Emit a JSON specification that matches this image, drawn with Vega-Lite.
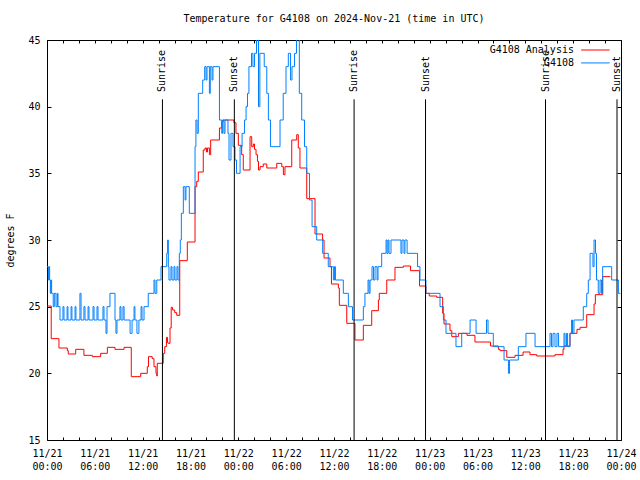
{
  "$schema": "https://vega.github.io/schema/vega-lite/v6.json",
  "width": 574,
  "height": 400,
  "autosize": {"type": "none"},
  "padding": {"left": 47, "top": 40, "right": 19, "bottom": 40},
  "title": {"text": "Temperature for G4108 on 2024-Nov-21 (time in UTC)", "font": "DejaVu Sans Mono", "fontSize": 10, "fontWeight": "normal", "color": "black", "anchor": "middle", "offset": 11},
  "config": {
    "view": {"stroke": "black", "strokeWidth": 1},
    "font": "DejaVu Sans Mono",
    "text": {"font": "DejaVu Sans Mono", "fontSize": 10, "color": "black"}
  },
  "resolve": {"axis": {"x": "independent", "y": "independent"}},
  "datasets": {
    "analysis": [
      {"hours": 0, "temp": 25.05}, {"hours": 0.53, "temp": 22.6}, {"hours": 1.5, "temp": 21.9}, {"hours": 2.55, "temp": 21.7},
      {"hours": 2.67, "temp": 21.45}, {"hours": 3.6, "temp": 21.8}, {"hours": 4.63, "temp": 21.35}, {"hours": 5.68, "temp": 21.25},
      {"hours": 6.73, "temp": 21.5}, {"hours": 7.57, "temp": 21.95}, {"hours": 8.53, "temp": 21.8}, {"hours": 9.67, "temp": 21.95},
      {"hours": 10.57, "temp": 19.75}, {"hours": 11.75, "temp": 20.0}, {"hours": 12.58, "temp": 20.5}, {"hours": 12.73, "temp": 21.25},
      {"hours": 13.2, "temp": 21.1}, {"hours": 13.42, "temp": 20.5}, {"hours": 13.67, "temp": 20.0}, {"hours": 13.77, "temp": 19.8},
      {"hours": 13.83, "temp": 20.75}, {"hours": 14.58, "temp": 21.5}, {"hours": 14.77, "temp": 22.0}, {"hours": 14.98, "temp": 22.7},
      {"hours": 15.12, "temp": 22.3}, {"hours": 15.22, "temp": 22.25}, {"hours": 15.43, "temp": 23.4}, {"hours": 15.58, "temp": 24.95},
      {"hours": 15.75, "temp": 24.75}, {"hours": 16.02, "temp": 24.55}, {"hours": 16.27, "temp": 24.35}, {"hours": 16.65, "temp": 28.45},
      {"hours": 17.6, "temp": 29.85}, {"hours": 18.57, "temp": 34.0}, {"hours": 18.78, "temp": 34.4}, {"hours": 18.98, "temp": 35.1},
      {"hours": 19.6, "temp": 36.75}, {"hours": 19.82, "temp": 36.9}, {"hours": 20.0, "temp": 36.6}, {"hours": 20.13, "temp": 36.9},
      {"hours": 20.37, "temp": 36.4}, {"hours": 20.53, "temp": 37.5}, {"hours": 21.63, "temp": 38.4}, {"hours": 21.92, "temp": 38.9},
      {"hours": 22.12, "temp": 39.0}, {"hours": 23.45, "temp": 38.8}, {"hours": 23.7, "temp": 38.0}, {"hours": 24.0, "temp": 37.1},
      {"hours": 24.42, "temp": 36.4}, {"hours": 24.62, "temp": 35.25}, {"hours": 25.47, "temp": 37.75}, {"hours": 25.68, "temp": 37.0},
      {"hours": 25.88, "temp": 37.2}, {"hours": 26.03, "temp": 36.8}, {"hours": 26.22, "temp": 36.4}, {"hours": 26.4, "temp": 35.9},
      {"hours": 26.53, "temp": 35.25}, {"hours": 26.72, "temp": 35.5}, {"hours": 27.13, "temp": 35.7}, {"hours": 27.57, "temp": 35.4},
      {"hours": 28.82, "temp": 35.75}, {"hours": 29.45, "temp": 35.5}, {"hours": 29.65, "temp": 34.9}, {"hours": 29.85, "temp": 35.5},
      {"hours": 30.7, "temp": 37.5}, {"hours": 31.32, "temp": 37.9}, {"hours": 31.52, "temp": 36.9}, {"hours": 31.73, "temp": 35.4},
      {"hours": 32.58, "temp": 33.1}, {"hours": 33.62, "temp": 30.45}, {"hours": 34.57, "temp": 30.0}, {"hours": 34.75, "temp": 28.65},
      {"hours": 35.5, "temp": 28.0}, {"hours": 35.68, "temp": 26.7}, {"hours": 36.55, "temp": 26.4}, {"hours": 36.67, "temp": 25.1},
      {"hours": 37.6, "temp": 23.75}, {"hours": 38.63, "temp": 22.5}, {"hours": 39.68, "temp": 23.6}, {"hours": 40.73, "temp": 24.7},
      {"hours": 41.57, "temp": 25.5}, {"hours": 41.68, "temp": 26.0}, {"hours": 42.62, "temp": 27.0}, {"hours": 43.65, "temp": 27.95},
      {"hours": 44.7, "temp": 28.05}, {"hours": 45.6, "temp": 27.7}, {"hours": 46.73, "temp": 26.55}, {"hours": 47.53, "temp": 26.0},
      {"hours": 47.95, "temp": 25.8}, {"hours": 48.88, "temp": 25.7}, {"hours": 49.63, "temp": 24.5}, {"hours": 49.8, "temp": 23.7},
      {"hours": 50.55, "temp": 23.2}, {"hours": 50.77, "temp": 22.75}, {"hours": 51.6, "temp": 23.0}, {"hours": 52.68, "temp": 22.85},
      {"hours": 53.68, "temp": 22.35}, {"hours": 55.63, "temp": 22.05}, {"hours": 56.62, "temp": 21.8}, {"hours": 56.83, "temp": 21.7},
      {"hours": 57.67, "temp": 21.2}, {"hours": 58.7, "temp": 21.35}, {"hours": 59.72, "temp": 21.6}, {"hours": 60.58, "temp": 21.4},
      {"hours": 61.43, "temp": 21.3}, {"hours": 63.72, "temp": 21.4}, {"hours": 64.73, "temp": 21.8}, {"hours": 64.85, "temp": 22.05},
      {"hours": 65.6, "temp": 23.0}, {"hours": 66.48, "temp": 23.3}, {"hours": 66.87, "temp": 23.45}, {"hours": 67.7, "temp": 24.4},
      {"hours": 68.62, "temp": 25.2}, {"hours": 68.78, "temp": 25.9}, {"hours": 69.7, "temp": 27.25}, {"hours": 70.68, "temp": 27.25}
    ],
    "obs": [
      {"hours": 0, "temp": 28}, {"hours": 0.17, "temp": 27}, {"hours": 0.25, "temp": 28}, {"hours": 0.33, "temp": 27},
      {"hours": 0.42, "temp": 26}, {"hours": 0.5, "temp": 27}, {"hours": 0.58, "temp": 26}, {"hours": 0.78, "temp": 25},
      {"hours": 0.92, "temp": 26}, {"hours": 1.13, "temp": 25}, {"hours": 1.3, "temp": 26}, {"hours": 1.38, "temp": 25},
      {"hours": 1.63, "temp": 24}, {"hours": 2.0, "temp": 25}, {"hours": 2.13, "temp": 24}, {"hours": 2.52, "temp": 25},
      {"hours": 2.63, "temp": 24}, {"hours": 3.02, "temp": 25}, {"hours": 3.13, "temp": 24}, {"hours": 3.52, "temp": 25},
      {"hours": 3.63, "temp": 24}, {"hours": 4.13, "temp": 26}, {"hours": 4.27, "temp": 24}, {"hours": 4.63, "temp": 25},
      {"hours": 4.77, "temp": 24}, {"hours": 5.15, "temp": 25}, {"hours": 5.27, "temp": 24}, {"hours": 5.77, "temp": 25},
      {"hours": 5.9, "temp": 24}, {"hours": 6.27, "temp": 25}, {"hours": 6.4, "temp": 24}, {"hours": 7.02, "temp": 25},
      {"hours": 7.15, "temp": 24}, {"hours": 7.4, "temp": 23}, {"hours": 7.53, "temp": 25}, {"hours": 7.9, "temp": 26},
      {"hours": 8.53, "temp": 24}, {"hours": 8.65, "temp": 23}, {"hours": 8.78, "temp": 24}, {"hours": 9.15, "temp": 25},
      {"hours": 9.28, "temp": 24}, {"hours": 9.53, "temp": 25}, {"hours": 9.67, "temp": 24}, {"hours": 10.42, "temp": 23},
      {"hours": 10.67, "temp": 24}, {"hours": 10.92, "temp": 25}, {"hours": 11.03, "temp": 24}, {"hours": 11.28, "temp": 23},
      {"hours": 11.53, "temp": 24}, {"hours": 11.8, "temp": 25}, {"hours": 11.92, "temp": 24}, {"hours": 12.17, "temp": 25},
      {"hours": 12.7, "temp": 26}, {"hours": 13.42, "temp": 27}, {"hours": 13.55, "temp": 26}, {"hours": 13.77, "temp": 27},
      {"hours": 14.3, "temp": 28}, {"hours": 15.02, "temp": 29}, {"hours": 15.13, "temp": 30}, {"hours": 15.22, "temp": 28},
      {"hours": 15.3, "temp": 27}, {"hours": 15.55, "temp": 28}, {"hours": 15.68, "temp": 27}, {"hours": 15.93, "temp": 28},
      {"hours": 16.05, "temp": 27}, {"hours": 16.3, "temp": 28}, {"hours": 16.43, "temp": 27}, {"hours": 16.6, "temp": 29},
      {"hours": 16.72, "temp": 30}, {"hours": 16.85, "temp": 32}, {"hours": 17.1, "temp": 34}, {"hours": 17.32, "temp": 33},
      {"hours": 17.43, "temp": 34}, {"hours": 17.85, "temp": 32}, {"hours": 18.57, "temp": 37}, {"hours": 18.68, "temp": 39},
      {"hours": 18.82, "temp": 38}, {"hours": 18.98, "temp": 41}, {"hours": 19.53, "temp": 42}, {"hours": 19.78, "temp": 43},
      {"hours": 19.95, "temp": 42}, {"hours": 20.07, "temp": 43}, {"hours": 20.37, "temp": 41}, {"hours": 20.48, "temp": 43},
      {"hours": 20.7, "temp": 42}, {"hours": 20.82, "temp": 43}, {"hours": 21.63, "temp": 39}, {"hours": 21.92, "temp": 38},
      {"hours": 22.03, "temp": 39}, {"hours": 22.2, "temp": 38}, {"hours": 22.33, "temp": 39}, {"hours": 22.7, "temp": 38},
      {"hours": 22.83, "temp": 36}, {"hours": 23.08, "temp": 38}, {"hours": 23.33, "temp": 37}, {"hours": 23.58, "temp": 36},
      {"hours": 23.77, "temp": 35}, {"hours": 24.22, "temp": 37}, {"hours": 24.47, "temp": 38}, {"hours": 24.77, "temp": 39},
      {"hours": 24.97, "temp": 40}, {"hours": 25.15, "temp": 41}, {"hours": 25.33, "temp": 43}, {"hours": 25.65, "temp": 44},
      {"hours": 25.83, "temp": 43}, {"hours": 26.03, "temp": 44}, {"hours": 26.28, "temp": 46}, {"hours": 26.53, "temp": 40},
      {"hours": 26.7, "temp": 44}, {"hours": 27.25, "temp": 43}, {"hours": 27.57, "temp": 41}, {"hours": 27.77, "temp": 39},
      {"hours": 28.03, "temp": 37}, {"hours": 29.23, "temp": 39}, {"hours": 29.63, "temp": 41}, {"hours": 29.98, "temp": 43},
      {"hours": 30.27, "temp": 44}, {"hours": 30.55, "temp": 42}, {"hours": 30.73, "temp": 43}, {"hours": 31.05, "temp": 44},
      {"hours": 31.3, "temp": 46}, {"hours": 31.65, "temp": 41}, {"hours": 31.95, "temp": 39}, {"hours": 32.3, "temp": 37},
      {"hours": 32.58, "temp": 35}, {"hours": 32.93, "temp": 33}, {"hours": 33.25, "temp": 31}, {"hours": 33.83, "temp": 30},
      {"hours": 34.58, "temp": 29}, {"hours": 35.28, "temp": 28}, {"hours": 35.92, "temp": 27}, {"hours": 36.07, "temp": 28},
      {"hours": 36.18, "temp": 27}, {"hours": 37.17, "temp": 26}, {"hours": 37.8, "temp": 25}, {"hours": 38.32, "temp": 24},
      {"hours": 39.68, "temp": 25}, {"hours": 39.88, "temp": 26}, {"hours": 40.27, "temp": 27}, {"hours": 40.4, "temp": 26},
      {"hours": 40.52, "temp": 27}, {"hours": 40.77, "temp": 28}, {"hours": 40.95, "temp": 27}, {"hours": 41.15, "temp": 28},
      {"hours": 41.4, "temp": 27}, {"hours": 41.52, "temp": 28}, {"hours": 41.98, "temp": 29}, {"hours": 42.53, "temp": 30},
      {"hours": 42.65, "temp": 29}, {"hours": 42.78, "temp": 30}, {"hours": 42.9, "temp": 29}, {"hours": 43.15, "temp": 30},
      {"hours": 44.4, "temp": 29}, {"hours": 44.53, "temp": 30}, {"hours": 44.78, "temp": 29}, {"hours": 44.9, "temp": 30},
      {"hours": 45.17, "temp": 29}, {"hours": 46.48, "temp": 28}, {"hours": 46.78, "temp": 27}, {"hours": 47.53, "temp": 26},
      {"hours": 49.3, "temp": 25}, {"hours": 49.72, "temp": 24}, {"hours": 50.05, "temp": 23}, {"hours": 51.3, "temp": 22},
      {"hours": 52.02, "temp": 23}, {"hours": 53.07, "temp": 24}, {"hours": 53.82, "temp": 23}, {"hours": 55.13, "temp": 24},
      {"hours": 55.32, "temp": 23}, {"hours": 55.98, "temp": 22}, {"hours": 57.33, "temp": 21}, {"hours": 57.88, "temp": 20},
      {"hours": 58.02, "temp": 21}, {"hours": 59.12, "temp": 22}, {"hours": 60.08, "temp": 23}, {"hours": 61.22, "temp": 22},
      {"hours": 63.1, "temp": 23}, {"hours": 63.28, "temp": 22}, {"hours": 63.47, "temp": 23}, {"hours": 63.72, "temp": 22},
      {"hours": 63.97, "temp": 23}, {"hours": 64.17, "temp": 22}, {"hours": 64.85, "temp": 23}, {"hours": 64.98, "temp": 22},
      {"hours": 65.17, "temp": 23}, {"hours": 65.3, "temp": 22}, {"hours": 65.6, "temp": 23}, {"hours": 65.8, "temp": 24},
      {"hours": 65.92, "temp": 23}, {"hours": 66.1, "temp": 24}, {"hours": 67.27, "temp": 25}, {"hours": 67.7, "temp": 26},
      {"hours": 67.9, "temp": 27}, {"hours": 68.12, "temp": 29}, {"hours": 68.48, "temp": 28}, {"hours": 68.62, "temp": 30},
      {"hours": 68.8, "temp": 29}, {"hours": 68.93, "temp": 27}, {"hours": 69.15, "temp": 26}, {"hours": 69.37, "temp": 27},
      {"hours": 69.55, "temp": 26}, {"hours": 69.7, "temp": 28}, {"hours": 70.83, "temp": 27}, {"hours": 71.67, "temp": 26},
      {"hours": 71.93, "temp": 26}
    ],
    "sun": [
      {"event": "Sunrise", "hours": 14.48},
      {"event": "Sunset", "hours": 23.5},
      {"event": "Sunrise", "hours": 38.52},
      {"event": "Sunset", "hours": 47.48},
      {"event": "Sunrise", "hours": 62.53},
      {"event": "Sunset", "hours": 71.5}
    ],
    "legendA": [{"label": "G4108 Analysis"}],
    "legendB": [{"label": "G4108"}]
  },
  "layer": [
    {
      "data": {"name": "analysis"},
      "mark": {"type": "line", "interpolate": "step-after", "color": "#ff0000", "strokeWidth": 1, "clip": true},
      "encoding": {
        "x": {
          "field": "hours", "type": "quantitative",
          "scale": {"domain": [0, 72], "nice": false, "zero": false},
          "axis": {
            "orient": "bottom", "title": null, "grid": false, "domain": false,
            "values": [0, 2, 4, 6, 8, 10, 12, 14, 16, 18, 20, 22, 24, 26, 28, 30, 32, 34, 36, 38, 40, 42, 44, 46, 48, 50, 52, 54, 56, 58, 60, 62, 64, 66, 68, 70, 72],
            "tickColor": "black", "tickWidth": 1, "tickSize": -3,
            "labelExpr": "datum.value % 6 == 0 ? ['11/' + (21 + floor(datum.value / 24)), (datum.value % 24 < 10 ? '0' : '') + (datum.value % 24) + ':00'] : ''",
            "labelFont": "DejaVu Sans Mono", "labelFontSize": 10, "labelColor": "black",
            "labelBaseline": "top", "labelLineHeight": 13, "labelPadding": 11,
            "labelOverlap": false, "labelFlush": false, "labelBound": false
          }
        },
        "y": {
          "field": "temp", "type": "quantitative",
          "scale": {"domain": [15, 45], "nice": false, "zero": false},
          "axis": {
            "orient": "left", "title": "degrees F", "grid": false, "domain": false,
            "values": [15, 20, 25, 30, 35, 40, 45],
            "tickColor": "black", "tickSize": -4,
            "labelFont": "DejaVu Sans Mono", "labelFontSize": 10, "labelColor": "black", "labelPadding": 11,
            "titleFont": "DejaVu Sans Mono", "titleFontSize": 10, "titleFontWeight": "normal", "titleColor": "black", "titlePadding": 12
          }
        }
      }
    },
    {
      "data": {"name": "obs"},
      "mark": {"type": "line", "interpolate": "step-after", "color": "#0080ff", "strokeWidth": 1, "clip": true},
      "encoding": {
        "x": {
          "field": "hours", "type": "quantitative",
          "axis": {
            "orient": "top", "title": null, "grid": false, "domain": false, "labels": false,
            "values": [0, 2, 4, 6, 8, 10, 12, 14, 16, 18, 20, 22, 24, 26, 28, 30, 32, 34, 36, 38, 40, 42, 44, 46, 48, 50, 52, 54, 56, 58, 60, 62, 64, 66, 68, 70, 72],
            "tickColor": "black", "tickWidth": 1, "tickSize": -3
          }
        },
        "y": {
          "field": "temp", "type": "quantitative",
          "axis": {
            "orient": "right", "title": null, "grid": false, "domain": false, "labels": false,
            "values": [15, 20, 25, 30, 35, 40, 45],
            "tickColor": "black", "tickSize": -4
          }
        }
      }
    },
    {
      "data": {"name": "sun"},
      "mark": {"type": "rule", "color": "black", "strokeWidth": 1},
      "encoding": {
        "x": {"field": "hours", "type": "quantitative", "axis": null},
        "y": {"datum": 40.55, "type": "quantitative", "axis": null},
        "y2": {"datum": 15}
      }
    },
    {
      "data": {"name": "sun"},
      "mark": {"type": "text", "angle": 270, "align": "left", "baseline": "middle", "font": "DejaVu Sans Mono", "fontSize": 10, "color": "black"},
      "encoding": {
        "x": {"field": "hours", "type": "quantitative", "axis": null},
        "y": {"datum": 41.1, "type": "quantitative", "axis": null},
        "text": {"field": "event"}
      }
    },
    {
      "data": {"name": "legendA"},
      "mark": {"type": "text", "align": "right", "baseline": "middle", "font": "DejaVu Sans Mono", "fontSize": 10, "color": "black"},
      "encoding": {
        "x": {"datum": 66.1, "type": "quantitative", "axis": null},
        "y": {"datum": 44.25, "type": "quantitative", "axis": null},
        "text": {"field": "label"}
      }
    },
    {
      "data": {"name": "legendA"},
      "mark": {"type": "rule", "color": "#ff0000", "strokeWidth": 1},
      "encoding": {
        "x": {"datum": 67.0, "type": "quantitative", "axis": null},
        "x2": {"datum": 70.58},
        "y": {"datum": 44.25, "type": "quantitative", "axis": null}
      }
    },
    {
      "data": {"name": "legendB"},
      "mark": {"type": "text", "align": "right", "baseline": "middle", "font": "DejaVu Sans Mono", "fontSize": 10, "color": "black"},
      "encoding": {
        "x": {"datum": 66.1, "type": "quantitative", "axis": null},
        "y": {"datum": 43.28, "type": "quantitative", "axis": null},
        "text": {"field": "label"}
      }
    },
    {
      "data": {"name": "legendB"},
      "mark": {"type": "rule", "color": "#0080ff", "strokeWidth": 1},
      "encoding": {
        "x": {"datum": 67.0, "type": "quantitative", "axis": null},
        "x2": {"datum": 70.58},
        "y": {"datum": 43.28, "type": "quantitative", "axis": null}
      }
    }
  ]
}
